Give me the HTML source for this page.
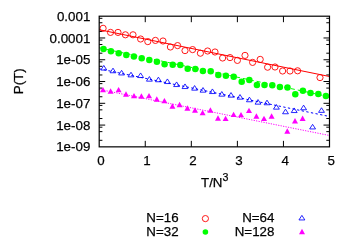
<!DOCTYPE html><html><head><meta charset="utf-8"><style>html,body{margin:0;padding:0;background:#fff;}svg{display:block;}text{font-family:"Liberation Sans",sans-serif;font-size:13.33px;fill:#000;stroke:#000;stroke-width:0.25px;}</style></head><body>
<svg width="350" height="245" viewBox="0 0 350 245">
<rect width="350" height="245" fill="#fff"/>
<g stroke="#000" stroke-width="1" fill="none">
<path d="M99.2 18.31h3.2M329.5 18.31h-3.2"/>
<path d="M99.2 22.75h3.2M329.5 22.75h-3.2"/>
<path d="M99.2 31.42h3.2M329.5 31.42h-3.2"/>
<path d="M99.2 37.98h6.0M329.5 37.98h-6.0"/>
<path d="M99.2 40.09h3.2M329.5 40.09h-3.2"/>
<path d="M99.2 44.53h3.2M329.5 44.53h-3.2"/>
<path d="M99.2 53.20h3.2M329.5 53.20h-3.2"/>
<path d="M99.2 59.75h6.0M329.5 59.75h-6.0"/>
<path d="M99.2 61.86h3.2M329.5 61.86h-3.2"/>
<path d="M99.2 66.30h3.2M329.5 66.30h-3.2"/>
<path d="M99.2 74.97h3.2M329.5 74.97h-3.2"/>
<path d="M99.2 81.53h6.0M329.5 81.53h-6.0"/>
<path d="M99.2 83.64h3.2M329.5 83.64h-3.2"/>
<path d="M99.2 88.08h3.2M329.5 88.08h-3.2"/>
<path d="M99.2 96.75h3.2M329.5 96.75h-3.2"/>
<path d="M99.2 103.30h6.0M329.5 103.30h-6.0"/>
<path d="M99.2 105.41h3.2M329.5 105.41h-3.2"/>
<path d="M99.2 109.85h3.2M329.5 109.85h-3.2"/>
<path d="M99.2 118.52h3.2M329.5 118.52h-3.2"/>
<path d="M99.2 125.08h6.0M329.5 125.08h-6.0"/>
<path d="M99.2 127.19h3.2M329.5 127.19h-3.2"/>
<path d="M99.2 131.63h3.2M329.5 131.63h-3.2"/>
<path d="M99.2 140.30h3.2M329.5 140.30h-3.2"/>
<path d="M145.26 146.85v-6.0M145.26 16.2v6.0"/>
<path d="M191.32 146.85v-6.0M191.32 16.2v6.0"/>
<path d="M237.38 146.85v-6.0M237.38 16.2v6.0"/>
<path d="M283.44 146.85v-6.0M283.44 16.2v6.0"/>
</g>
<line x1="99.2" y1="29.7" x2="329.5" y2="76.5" stroke="#f00" stroke-width="1"/>
<line x1="99.2" y1="47.8" x2="329.5" y2="96.8" stroke="#0f0" stroke-width="1" stroke-dasharray="4 3"/>
<line x1="99.2" y1="68.8" x2="329.5" y2="116.5" stroke="#00f" stroke-width="1" stroke-dasharray="2.3 2.4"/>
<line x1="99.2" y1="89.4" x2="329.5" y2="135.5" stroke="#f0f" stroke-width="1" stroke-dasharray="1.2 1.3"/>
<g fill="none" stroke="#f00" stroke-width="0.9">
<circle cx="103.1" cy="28.3" r="3.1"/>
<circle cx="110.5" cy="32.4" r="3.1"/>
<circle cx="118" cy="32.4" r="3.1"/>
<circle cx="125.4" cy="34.8" r="3.1"/>
<circle cx="133" cy="34.8" r="3.1"/>
<circle cx="140.6" cy="39" r="3.1"/>
<circle cx="147.8" cy="41.6" r="3.1"/>
<circle cx="155.4" cy="40.4" r="3.1"/>
<circle cx="163" cy="41" r="3.1"/>
<circle cx="170.4" cy="47" r="3.1"/>
<circle cx="177.6" cy="45.6" r="3.1"/>
<circle cx="185" cy="50.6" r="3.1"/>
<circle cx="192.6" cy="49.6" r="3.1"/>
<circle cx="200.4" cy="53.2" r="3.1"/>
<circle cx="207.6" cy="51" r="3.1"/>
<circle cx="215" cy="52" r="3.1"/>
<circle cx="222.6" cy="58" r="3.1"/>
<circle cx="230" cy="57.6" r="3.1"/>
<circle cx="237.4" cy="60.4" r="3.1"/>
<circle cx="245" cy="55.4" r="3.1"/>
<circle cx="252.6" cy="62.4" r="3.1"/>
<circle cx="260.2" cy="59.4" r="3.1"/>
<circle cx="267.6" cy="67.2" r="3.1"/>
<circle cx="275" cy="67" r="3.1"/>
<circle cx="282.6" cy="71" r="3.1"/>
<circle cx="290" cy="71" r="3.1"/>
<circle cx="297.6" cy="70.8" r="3.1"/>
<circle cx="320" cy="77.6" r="3.1"/>
<circle cx="205.4" cy="218.6" r="3.1"/>
</g><g fill="#0f0">
<circle cx="103.50" cy="48.90" r="3.25"/>
<circle cx="110.90" cy="51.30" r="3.25"/>
<circle cx="118.70" cy="53.30" r="3.25"/>
<circle cx="126.30" cy="54.90" r="3.25"/>
<circle cx="133.90" cy="56.50" r="3.25"/>
<circle cx="141.70" cy="58.30" r="3.25"/>
<circle cx="149.30" cy="59.90" r="3.25"/>
<circle cx="156.90" cy="61.70" r="3.25"/>
<circle cx="164.60" cy="64.30" r="3.25"/>
<circle cx="172.70" cy="64.70" r="3.25"/>
<circle cx="180.30" cy="65.10" r="3.25"/>
<circle cx="187.70" cy="68.70" r="3.25"/>
<circle cx="195.30" cy="69.10" r="3.25"/>
<circle cx="202.90" cy="70.90" r="3.25"/>
<circle cx="210.70" cy="71.30" r="3.25"/>
<circle cx="218.30" cy="74.90" r="3.25"/>
<circle cx="225.90" cy="75.70" r="3.25"/>
<circle cx="233.70" cy="76.70" r="3.25"/>
<circle cx="241.70" cy="81.70" r="3.25"/>
<circle cx="249.30" cy="79.90" r="3.25"/>
<circle cx="256.90" cy="84.90" r="3.25"/>
<circle cx="264.50" cy="84.90" r="3.25"/>
<circle cx="272.30" cy="85.30" r="3.25"/>
<circle cx="279.90" cy="87.10" r="3.25"/>
<circle cx="287.50" cy="87.60" r="3.25"/>
<circle cx="295.30" cy="94.30" r="3.25"/>
<circle cx="302.90" cy="90.80" r="3.25"/>
<circle cx="310.50" cy="92.90" r="3.25"/>
<circle cx="318.30" cy="93.90" r="3.25"/>
<circle cx="325.90" cy="95.90" r="3.25"/>
<circle cx="205.4" cy="232" r="2.8"/>
</g><g fill="none" stroke="#00f" stroke-width="0.85">
<path d="M103.80 65.45L100.85 70.05L106.75 70.05Z"/>
<path d="M113.00 68.15L110.05 72.75L115.95 72.75Z"/>
<path d="M121.60 70.35L118.65 74.95L124.55 74.95Z"/>
<path d="M131.00 72.25L128.05 76.85L133.95 76.85Z"/>
<path d="M140.60 72.95L137.65 77.55L143.55 77.55Z"/>
<path d="M149.40 76.55L146.45 81.15L152.35 81.15Z"/>
<path d="M158.40 77.15L155.45 81.75L161.35 81.75Z"/>
<path d="M167.40 78.95L164.45 83.55L170.35 83.55Z"/>
<path d="M176.60 81.95L173.65 86.55L179.55 86.55Z"/>
<path d="M185.00 83.95L182.05 88.55L187.95 88.55Z"/>
<path d="M194.60 85.55L191.65 90.15L197.55 90.15Z"/>
<path d="M203.00 87.55L200.05 92.15L205.95 92.15Z"/>
<path d="M212.40 88.95L209.45 93.55L215.35 93.55Z"/>
<path d="M221.80 91.55L218.85 96.15L224.75 96.15Z"/>
<path d="M231.00 92.55L228.05 97.15L233.95 97.15Z"/>
<path d="M240.00 94.55L237.05 99.15L242.95 99.15Z"/>
<path d="M249.40 97.15L246.45 101.75L252.35 101.75Z"/>
<path d="M258.00 99.55L255.05 104.15L260.95 104.15Z"/>
<path d="M267.00 100.15L264.05 104.75L269.95 104.75Z"/>
<path d="M276.40 104.55L273.45 109.15L279.35 109.15Z"/>
<path d="M285.50 109.15L282.55 113.75L288.45 113.75Z"/>
<path d="M294.20 107.95L291.25 112.55L297.15 112.55Z"/>
<path d="M303.60 105.15L300.65 109.75L306.55 109.75Z"/>
<path d="M312.60 124.35L309.65 128.95L315.55 128.95Z"/>
<path d="M321.50 107.75L318.55 112.35L324.45 112.35Z"/>
<path d="M301.90 215.35L298.95 219.95L304.85 219.95Z"/>
</g><g fill="#f0f">
<path d="M103.00 86.90L100.00 92.30L106.00 92.30Z"/>
<path d="M110.60 88.30L107.60 93.70L113.60 93.70Z"/>
<path d="M118.60 86.90L115.60 92.30L121.60 92.30Z"/>
<path d="M126.00 91.30L123.00 96.70L129.00 96.70Z"/>
<path d="M134.00 92.90L131.00 98.30L137.00 98.30Z"/>
<path d="M141.40 93.30L138.40 98.70L144.40 98.70Z"/>
<path d="M149.00 92.90L146.00 98.30L152.00 98.30Z"/>
<path d="M156.80 96.30L153.80 101.70L159.80 101.70Z"/>
<path d="M164.40 97.90L161.40 103.30L167.40 103.30Z"/>
<path d="M172.40 103.30L169.40 108.70L175.40 108.70Z"/>
<path d="M179.60 101.80L176.60 107.20L182.60 107.20Z"/>
<path d="M187.40 105.30L184.40 110.70L190.40 110.70Z"/>
<path d="M195.00 107.30L192.00 112.70L198.00 112.70Z"/>
<path d="M202.60 109.90L199.60 115.30L205.60 115.30Z"/>
<path d="M210.40 107.30L207.40 112.70L213.40 112.70Z"/>
<path d="M218.00 115.30L215.00 120.70L221.00 120.70Z"/>
<path d="M225.60 115.70L222.60 121.10L228.60 121.10Z"/>
<path d="M233.60 111.70L230.60 117.10L236.60 117.10Z"/>
<path d="M241.00 111.90L238.00 117.30L244.00 117.30Z"/>
<path d="M249.00 107.70L246.00 113.10L252.00 113.10Z"/>
<path d="M256.40 113.30L253.40 118.70L259.40 118.70Z"/>
<path d="M264.00 115.70L261.00 121.10L267.00 121.10Z"/>
<path d="M271.60 113.30L268.60 118.70L274.60 118.70Z"/>
<path d="M287.30 128.30L284.30 133.70L290.30 133.70Z"/>
<path d="M295.00 118.10L292.00 123.50L298.00 123.50Z"/>
<path d="M302.60 115.50L299.60 120.90L305.60 120.90Z"/>
<path d="M302.00 228.80L299.00 234.20L305.00 234.20Z"/>
</g>
<rect x="99.2" y="16.2" width="230.3" height="130.65" fill="none" stroke="#000" stroke-width="1.2"/>
<g opacity="0.999">
<text x="90.3" y="20.80" text-anchor="end">0.001</text>
<text x="90.3" y="42.58" text-anchor="end">0.0001</text>
<text x="90.3" y="64.35" text-anchor="end">1e-05</text>
<text x="90.3" y="86.12" text-anchor="end">1e-06</text>
<text x="90.3" y="107.90" text-anchor="end">1e-07</text>
<text x="90.3" y="129.68" text-anchor="end">1e-08</text>
<text x="90.3" y="151.45" text-anchor="end">1e-09</text>
<text x="100.9" y="165.2" text-anchor="middle">0</text>
<text x="146.95999999999998" y="165.2" text-anchor="middle">1</text>
<text x="193.01999999999998" y="165.2" text-anchor="middle">2</text>
<text x="239.07999999999998" y="165.2" text-anchor="middle">3</text>
<text x="285.14" y="165.2" text-anchor="middle">4</text>
<text x="331.2" y="165.2" text-anchor="middle">5</text>
<text x="201" y="187">T/N<tspan font-size="10.67px" dy="-6">3</tspan></text>
<text transform="translate(23.2,81.3) rotate(-90)" text-anchor="middle">P(T)</text>
<text x="178.6" y="222.35" text-anchor="end">N=16</text>
<text x="178.6" y="235.75" text-anchor="end">N=32</text>
<text x="274.4" y="222.35" text-anchor="end">N=64</text>
<text x="274.4" y="235.75" text-anchor="end">N=128</text>
</g>
</svg></body></html>
